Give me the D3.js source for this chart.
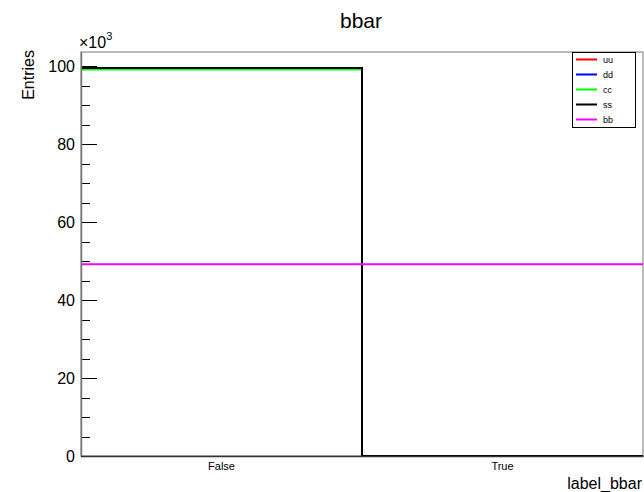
<!DOCTYPE html>
<html><head><meta charset="utf-8">
<script src="https://cdn.jsdelivr.net/npm/d3@7"></script>
<style>body{margin:0;background:#fff}svg{display:block}text{font-family:"Liberation Sans",Arial,Helvetica,sans-serif}</style>
</head><body>
<script>
// Data (values in thousands of entries)
const categories = ["False", "True"];
const seriesNames = ["uu", "dd", "cc", "ss", "bb"];
const seriesColors = ["#ff0000", "#0000ff", "#00ff00", "#000000", "#ff00ff"];
const uu = [99.4, 0];
const dd = [99.45, 0];
const cc = [99.1, 0];
const ss = [99.5, 0];
const bb = [49.15, 49.15];
const yTicks = [0, 20, 40, 60, 80, 100];
const yMax = 103.6;

const series = [uu, dd, cc, ss, bb];
const W = 644, H = 492;
const m = {left: 81, right: 1, top: 52, bottom: 36};
const svg = d3.select("body").append("svg").attr("width", W).attr("height", H);

const x = d3.scaleBand().domain(categories).range([m.left, W - m.right]).padding(0);
const y = d3.scaleLinear().domain([0, yMax]).range([H - m.bottom, m.top]);

// Frame
svg.append("rect").attr("x", m.left).attr("y", m.top)
  .attr("width", W - m.right - m.left).attr("height", H - m.bottom - m.top)
  .attr("fill", "none").attr("stroke", "#777").attr("stroke-width", 1);

// Histograms
const line = d3.line();
series.forEach((vals, i) => {
  const pts = [];
  categories.forEach((c, j) => {
    const x0 = x(c), x1 = x(c) + x.bandwidth();
    pts.push([x0, y(vals[j])]);
    pts.push([x1, y(vals[j])]);
  });
  svg.append("path").attr("d", line(pts)).attr("fill", "none")
    .attr("stroke", seriesColors[i]).attr("stroke-width", 2);
});

// Y axis with minor ticks
const minor = d3.range(0, yMax, 5).filter(v => v % 20 !== 0);
svg.append("g").selectAll("line").data(minor).join("line")
  .attr("x1", m.left).attr("x2", m.left + 9)
  .attr("y1", d => Math.round(y(d)) + 0.5).attr("y2", d => Math.round(y(d)) + 0.5)
  .attr("stroke", "#000").attr("stroke-width", 1);
const yAxis = d3.axisLeft(y).tickValues(yTicks).tickSize(-16).tickPadding(22).tickFormat(d3.format("d"));
const gy = svg.append("g").attr("transform", `translate(${m.left},0)`).call(yAxis);
gy.select(".domain").remove();
gy.selectAll(".tick line").attr("stroke", "#000");
gy.selectAll(".tick text").attr("x", -6).attr("font-size", 16).attr("fill", "#000");
svg.append("line").attr("x1", m.left + 0.5).attr("x2", m.left + 0.5)
  .attr("y1", m.top).attr("y2", H - m.bottom).attr("stroke", "#777").attr("stroke-width", 1.5);

// X axis
const xAxis = d3.axisBottom(x).tickSize(0).tickPadding(6);
const gx = svg.append("g").attr("transform", `translate(0,${H - m.bottom})`).call(xAxis);
gx.select(".domain").attr("stroke", "#333").attr("stroke-width", 1.5);
gx.selectAll(".tick text").attr("font-size", 11).attr("fill", "#000");

// Titles
svg.append("text").attr("x", 361).attr("y", 28).attr("text-anchor", "middle")
  .attr("font-size", 21).text("bbar");
svg.append("text").attr("x", 642).attr("y", 489).attr("text-anchor", "end")
  .attr("font-size", 16).text("label_bbar");
svg.append("text").attr("transform", "translate(34,50) rotate(-90)").attr("text-anchor", "end")
  .attr("font-size", 16).text("Entries");
const ex = svg.append("text").attr("x", 79).attr("y", 48).attr("font-size", 16);
ex.append("tspan").text("×10");
ex.append("tspan").attr("dy", -8).attr("font-size", 11).text("3");

// Legend
const lg = svg.append("g");
lg.append("rect").attr("x", 572.5).attr("y", 52.5).attr("width", 63).attr("height", 75)
  .attr("fill", "#fff").attr("stroke", "#000").attr("stroke-width", 1);
seriesNames.forEach((n, i) => {
  const yy = 59.5 + i * 15;
  lg.append("line").attr("x1", 576).attr("x2", 597).attr("y1", yy).attr("y2", yy)
    .attr("stroke", seriesColors[i]).attr("stroke-width", 2);
  lg.append("text").attr("x", 603).attr("y", yy + 3.5).attr("font-size", 9).text(n);
});
</script>
</body></html>
